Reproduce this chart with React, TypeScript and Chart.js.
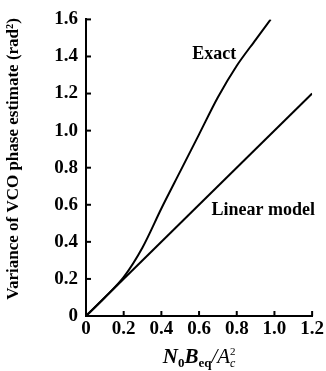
import React, { useEffect, useRef } from "react";
import { Chart, registerables } from "chart.js";

Chart.register(...registerables);

const exactX = [0, 0.1, 0.2, 0.3, 0.4, 0.5, 0.6, 0.7, 0.8, 0.9, 0.98];
const exactY = [0, 0.1, 0.21, 0.37, 0.58, 0.78, 0.98, 1.18, 1.35, 1.49, 1.6];
const linearX = [0, 1.2];
const linearY = [0, 1.2];
const xTicks = [0, 0.2, 0.4, 0.6, 0.8, 1.0, 1.2];
const yTicks = [0, 0.2, 0.4, 0.6, 0.8, 1.0, 1.2, 1.4, 1.6];
const labelTexts = ["Exact", "Linear model"];
const labelX = [0.68, 0.94];
const labelY = [1.41, 0.57];

const SERIF = "'Liberation Serif', 'DejaVu Serif', serif";

const fmt = (v: number) => (v === 0 ? "0" : v.toFixed(1));

const decorPlugin = {
  id: "decor",
  afterDraw(chart: any) {
    const ctx = chart.ctx as CanvasRenderingContext2D;
    const xs = chart.scales.x;
    const ys = chart.scales.y;
    const area = chart.chartArea;
    ctx.save();
    ctx.strokeStyle = "#000";
    ctx.lineWidth = 2;
    // inward ticks
    xTicks.forEach((v) => {
      const px = xs.getPixelForValue(v);
      ctx.beginPath();
      ctx.moveTo(px, area.bottom);
      ctx.lineTo(px, area.bottom - 5);
      ctx.stroke();
    });
    yTicks.forEach((v) => {
      const py = ys.getPixelForValue(v);
      ctx.beginPath();
      ctx.moveTo(area.left, py);
      ctx.lineTo(area.left + 5, py);
      ctx.stroke();
    });
    // in-plot labels
    ctx.fillStyle = "#000";
    ctx.font = `bold 18px ${SERIF}`;
    ctx.textAlign = "center";
    ctx.textBaseline = "middle";
    labelTexts.forEach((t, i) => {
      ctx.fillText(t, xs.getPixelForValue(labelX[i]), ys.getPixelForValue(labelY[i]));
    });
    // y title
    ctx.save();
    ctx.translate(14, 159);
    ctx.rotate(-Math.PI / 2);
    ctx.font = `bold 17px ${SERIF}`;
    ctx.textAlign = "center";
    ctx.textBaseline = "middle";
    ctx.fillText("Variance of VCO phase estimate (rad²)", 0, 0);
    ctx.restore();
    // x title
    const parts: [string, string, number][] = [
      ["N", `italic bold 21px ${SERIF}`, 0],
      ["0", `bold 13px ${SERIF}`, 4],
      ["B", `italic bold 21px ${SERIF}`, 0],
      ["eq", `bold 13px ${SERIF}`, 4],
      ["/A", `italic 21px ${SERIF}`, 0],
      ["c", `italic 12px ${SERIF}`, 4],
    ];
    let total = 0;
    parts.forEach(([t, f]) => {
      ctx.font = f;
      total += ctx.measureText(t).width;
    });
    let cx = (area.left + area.right) / 2 - total / 2;
    const base = 363;
    ctx.textAlign = "left";
    ctx.textBaseline = "alphabetic";
    let cPos = 0;
    parts.forEach(([t, f, dy]) => {
      ctx.font = f;
      if (t === "c") cPos = cx;
      ctx.fillText(t, cx, base + dy);
      cx += ctx.measureText(t).width;
    });
    ctx.font = `11px ${SERIF}`;
    ctx.fillText("2", cPos, base - 8);
    ctx.restore();
  },
};

export default function App() {
  const ref = useRef<HTMLCanvasElement>(null);
  useEffect(() => {
    if (!ref.current) return;
    const chart = new Chart(ref.current, {
      type: "line",
      data: {
        datasets: [
          {
            label: "Exact",
            data: exactX.map((x, i) => ({ x, y: exactY[i] })),
            borderColor: "#000",
            borderWidth: 2,
            pointRadius: 0,
            tension: 0.3,
          },
          {
            label: "Linear model",
            data: linearX.map((x, i) => ({ x, y: linearY[i] })),
            borderColor: "#000",
            borderWidth: 2,
            pointRadius: 0,
          },
        ],
      },
      options: {
        animation: false,
        responsive: false,
        layout: { padding: { top: 15, right: 13, left: 0, bottom: 0 } },
        plugins: { legend: { display: false }, tooltip: { enabled: false } },
        scales: {
          x: {
            type: "linear",
            min: 0,
            max: 1.2,
            afterBuildTicks: (s: any) => {
              s.ticks = xTicks.map((v) => ({ value: v }));
            },
            afterFit: (s: any) => {
              s.height = 55;
            },
            ticks: {
              callback: (v: any) => fmt(Number(v)),
              color: "#000",
              font: { family: SERIF, size: 19, weight: "bold" },
              padding: 2,
              maxRotation: 0,
              autoSkip: false,
            },
            grid: { display: true, drawOnChartArea: false, drawTicks: false },
            border: { display: true, color: "#000", width: 2 },
          },
          y: {
            type: "linear",
            min: 0,
            max: 1.6,
            afterBuildTicks: (s: any) => {
              s.ticks = yTicks.map((v) => ({ value: v }));
            },
            afterFit: (s: any) => {
              s.width = 86;
            },
            ticks: {
              callback: (v: any) => fmt(Number(v)),
              color: "#000",
              font: { family: SERIF, size: 19, weight: "bold" },
              padding: 8,
              autoSkip: false,
            },
            grid: { display: true, drawOnChartArea: false, drawTicks: false },
            border: { display: true, color: "#000", width: 2 },
          },
        },
      },
      plugins: [decorPlugin],
    } as any);
    return () => chart.destroy();
  }, []);
  return (
    <div style={{ position: "fixed", left: 0, top: 0, width: 326, height: 371, background: "#fff" }}>
      <canvas ref={ref} width={326} height={371} style={{ width: 326, height: 371, display: "block" }} />
    </div>
  );
}
